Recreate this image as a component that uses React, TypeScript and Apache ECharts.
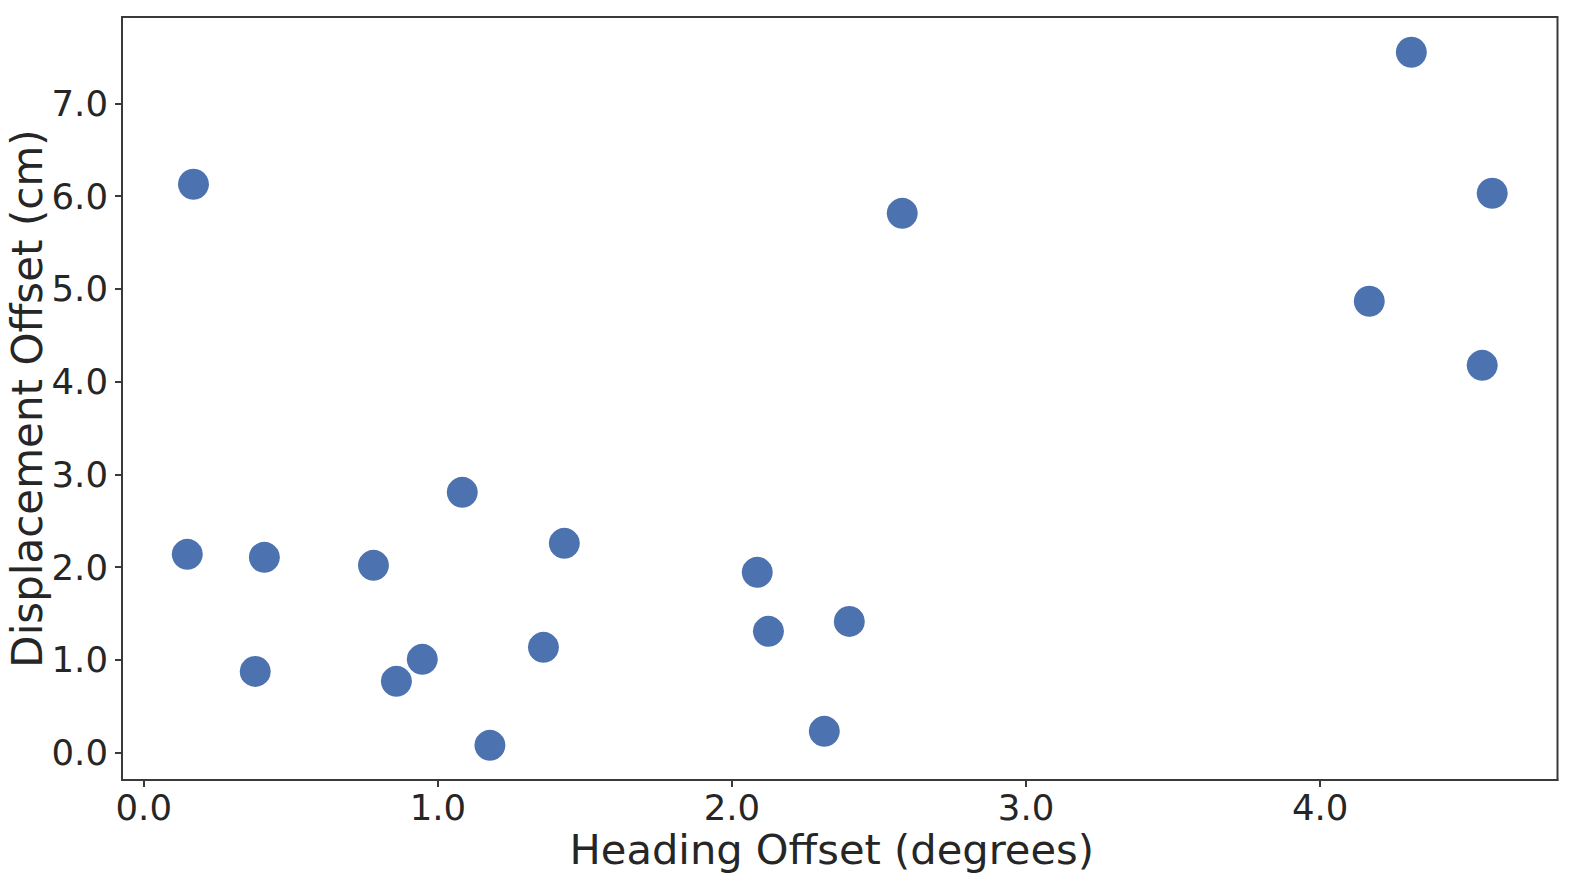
import React, { useEffect, useRef } from "react";
import * as echarts from "echarts";

const headingOffset = [
  0.169, 0.148, 0.410, 0.379, 0.781, 1.083, 0.947, 0.859, 1.177, 1.359,
  1.430, 2.086, 2.124, 2.399, 2.314, 2.579, 4.167, 4.310, 4.585, 4.551,
];
const displacementOffset = [
  6.127, 2.139, 2.106, 0.877, 2.020, 2.807, 1.007, 0.770, 0.080, 1.136,
  2.257, 1.945, 1.309, 1.416, 0.231, 5.814, 4.866, 7.550, 6.030, 4.176,
];
const xTicks = [0, 1, 2, 3, 4];
const yTicks = [0, 1, 2, 3, 4, 5, 6, 7];
const xName = "Heading Offset (degrees)";
const yName = "Displacement Offset (cm)";

export default function App() {
  const ref = useRef<HTMLDivElement>(null);
  useEffect(() => {
    if (!ref.current) return;
    const chart = echarts.init(ref.current, null, { renderer: "svg" });
    const font = "DejaVu Sans";
    const axisColor = "#3a3a3a";
    const textColor = "#262626";
    const data = headingOffset.map((x, i) => [x, displacementOffset[i]]);
    chart.setOption({
      animation: false,
      backgroundColor: "#ffffff",
      grid: {
        left: 122,
        top: 17,
        right: 19.5,
        bottom: 93,
        containLabel: false,
        outerBoundsMode: "none",
        show: true,
        borderColor: axisColor,
        borderWidth: 2,
        backgroundColor: "transparent",
      },
      xAxis: {
        type: "value",
        min: -0.074,
        max: 4.807,
        name: xName,
        nameLocation: "middle",
        nameGap: 48,
        nameMoveOverlap: false,
        nameTextStyle: {
          fontFamily: font,
          fontSize: 41.6,
          color: textColor,
          padding: [0, 16, 0, 0],
        },
        axisLine: { show: true, onZero: false, lineStyle: { color: axisColor, width: 2 } },
        axisTick: {
          show: true,
          length: 7,
          inside: false,
          customValues: xTicks,
          lineStyle: { color: axisColor, width: 2 },
        },
        axisLabel: {
          customValues: xTicks,
          margin: 9,
          fontFamily: font,
          fontSize: 35.5,
          color: textColor,
          formatter: (v: number) => v.toFixed(1),
        },
        splitLine: { show: false },
      },
      yAxis: {
        type: "value",
        min: -0.2935,
        max: 7.93,
        name: yName,
        nameLocation: "middle",
        nameGap: 74,
        nameMoveOverlap: false,
        nameTextStyle: { fontFamily: font, fontSize: 42, color: textColor },
        axisLine: { show: true, onZero: false, lineStyle: { color: axisColor, width: 2 } },
        axisTick: {
          show: true,
          length: 7,
          inside: false,
          customValues: yTicks,
          lineStyle: { color: axisColor, width: 2 },
        },
        axisLabel: {
          customValues: yTicks,
          margin: 14,
          fontFamily: font,
          fontSize: 35.5,
          color: textColor,
          formatter: (v: number) => v.toFixed(1),
        },
        splitLine: { show: false },
      },
      series: [
        {
          type: "scatter",
          data,
          symbol: "circle",
          symbolSize: 31,
          itemStyle: { color: "#4c72b0", opacity: 1 },
        },
      ],
    });
    return () => chart.dispose();
  }, []);
  return (
    <div
      ref={ref}
      style={{ position: "absolute", left: 0, top: 0, width: 1577, height: 873 }}
    />
  );
}
